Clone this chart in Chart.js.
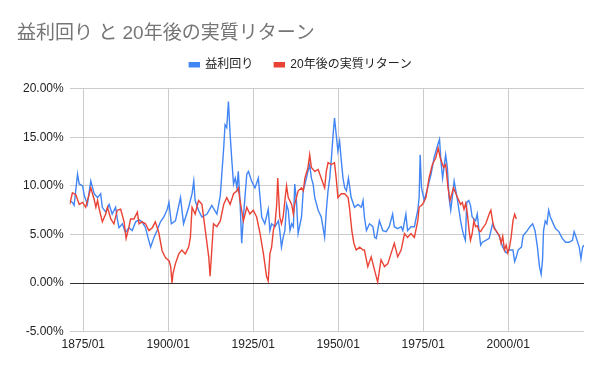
<!DOCTYPE html>
<html>
<head>
<meta charset="utf-8">
<script src="https://cdn.jsdelivr.net/npm/chart.js@4"></script>
<style>
  html, body { margin: 0; padding: 0; background: #fff; }
</style>
</head>
<body>
<canvas id="yieldChart" width="600" height="371"></canvas>
<script>
// 益利回り (月次をおおよそ読み取り)
const yieldYears = [
  1871.0, 1871.8, 1872.3, 1873.3, 1873.8, 1874.8, 1875.3, 1876.2, 1877.2, 1878.2,
  1879.2, 1880.1, 1880.6, 1881.6, 1882.6, 1883.5, 1884.5, 1885.0, 1885.5, 1886.5,
  1887.4, 1888.4, 1889.4, 1890.4, 1891.4, 1892.3, 1893.3, 1894.1, 1894.8, 1895.8,
  1896.7, 1897.7, 1898.7, 1899.7, 1900.2, 1900.9, 1902.1, 1903.6, 1904.5, 1906.0,
  1907.0, 1907.5, 1907.9, 1908.9, 1909.9, 1911.4, 1912.8, 1914.3, 1915.3, 1916.3,
  1916.7, 1917.2, 1917.7, 1918.2, 1918.7, 1919.2, 1919.7, 1920.2, 1920.6, 1921.1,
  1921.6, 1922.1, 1923.1, 1923.6, 1924.5, 1925.5, 1926.5, 1927.5, 1928.4, 1929.4,
  1929.9, 1930.4, 1931.4, 1932.4, 1932.8, 1933.3, 1933.8, 1934.3, 1934.8, 1935.3,
  1935.8, 1936.3, 1936.8, 1937.2, 1937.7, 1938.2, 1939.2, 1939.7, 1940.2, 1941.1,
  1941.6, 1942.1, 1942.6, 1943.1, 1944.1, 1945.0, 1946.0, 1946.5, 1947.0, 1947.5,
  1948.0, 1948.5, 1948.9, 1949.4, 1949.9, 1950.4, 1950.9, 1951.4, 1951.9, 1952.4,
  1953.0, 1953.8, 1954.8, 1955.8, 1956.8, 1957.3, 1957.7, 1958.3, 1959.2, 1960.2,
  1960.7, 1961.2, 1962.1, 1963.1, 1964.1, 1965.0, 1966.0, 1966.5, 1967.5, 1968.5,
  1969.0, 1969.9, 1970.4, 1971.4, 1972.4, 1973.4, 1973.8, 1974.1, 1974.5, 1975.3,
  1976.3, 1977.3, 1978.2, 1979.0, 1979.8, 1980.2, 1980.7, 1981.6, 1982.1, 1982.6,
  1983.1, 1984.1, 1985.1, 1986.0, 1986.5, 1987.0, 1987.4, 1987.8, 1988.4, 1988.9,
  1989.4, 1990.4, 1990.9, 1991.4, 1991.9, 1992.4, 1993.4, 1994.4, 1995.4, 1996.4,
  1997.4, 1998.4, 1999.4, 2000.4, 2001.4, 2001.9, 2002.4, 2002.9, 2003.9, 2004.4,
  2005.4, 2006.4, 2007.2, 2007.9, 2008.6, 2009.2, 2009.7, 2010.1, 2010.4, 2010.9,
  2011.4, 2011.9, 2012.4, 2012.9, 2013.9, 2014.9, 2015.9, 2016.9, 2017.9, 2018.9,
  2019.4, 2019.9, 2020.9, 2021.4, 2021.9, 2022.3
];
const yieldValues = [
  8.5, 8.3, 8.0, 11.2, 10.2, 10.0, 9.0, 8.1, 10.5, 9.2,
  8.8, 9.2, 7.8, 7.3, 8.1, 7.1, 7.8, 6.6, 5.7, 6.1,
  5.2, 5.7, 5.4, 6.3, 6.5, 6.3, 5.7, 4.6, 3.7, 4.7,
  5.4, 6.3, 6.8, 7.6, 8.3, 6.1, 6.4, 8.8, 6.1, 7.8,
  9.2, 10.5, 8.5, 7.5, 6.8, 7.1, 8.0, 7.1, 9.0, 13.9,
  16.3, 16.0, 18.7, 15.3, 12.6, 10.2, 10.8, 9.8, 11.5, 8.5,
  4.1, 6.8, 11.2, 11.5, 10.5, 9.8, 10.8, 6.8, 6.1, 7.6,
  5.4, 6.1, 5.8, 6.4, 5.4, 3.7, 4.7, 5.4, 8.1, 7.5,
  5.4, 6.1, 5.8, 10.2, 8.5, 5.1, 6.8, 9.5, 10.2, 11.5,
  12.2, 10.8, 10.2, 8.8, 7.5, 6.8, 4.7, 7.5, 9.5, 10.8,
  12.9, 15.3, 17.0, 15.3, 13.6, 14.6, 12.6, 10.8, 9.8, 9.5,
  10.8, 8.8, 7.8, 8.1, 7.8, 8.5, 6.8, 5.4, 6.1, 5.8,
  4.7, 4.6, 6.4, 5.4, 5.3, 5.8, 7.1, 5.8, 5.6, 5.8,
  5.4, 7.1, 5.4, 5.8, 5.8, 7.5, 8.8, 13.2, 9.8, 8.5,
  9.8, 11.2, 12.9, 13.9, 14.8, 12.6, 10.8, 13.2, 11.9, 8.8,
  7.5, 10.5, 8.5, 6.4, 5.5, 4.8, 4.4, 8.3, 8.5, 8.0,
  6.8, 6.4, 7.1, 5.4, 3.9, 4.2, 4.4, 4.6, 6.1, 5.4,
  4.8, 3.7, 3.1, 3.4, 3.4, 2.2, 2.7, 3.4, 3.7, 4.9,
  5.3, 5.8, 6.1, 5.4, 3.7, 1.7, 0.9, 2.4, 5.4, 6.4,
  6.1, 7.5, 6.8, 6.4, 5.6, 5.3, 4.6, 4.2, 4.2, 4.4,
  5.3, 4.8, 3.7, 2.5, 3.7, 3.9
];

// 20年後の実質リターン
const returnYears = [
  1871.0, 1871.8, 1872.8, 1873.8, 1874.8, 1875.7, 1876.7, 1877.2, 1878.2, 1878.7,
  1879.2, 1879.7, 1880.6, 1881.6, 1882.1, 1883.1, 1884.0, 1885.0, 1886.0, 1887.0,
  1887.6, 1888.4, 1888.9, 1889.9, 1890.9, 1891.4, 1892.3, 1893.3, 1894.3, 1895.3,
  1896.2, 1897.2, 1898.2, 1899.2, 1900.2, 1900.7, 1901.1, 1901.4, 1902.1, 1903.1,
  1904.0, 1905.0, 1906.0, 1906.5, 1907.0, 1907.9, 1908.9, 1909.9, 1910.9, 1911.9,
  1912.3, 1912.8, 1913.3, 1914.3, 1915.3, 1916.3, 1917.2, 1918.2, 1919.2, 1920.2,
  1920.6, 1921.1, 1922.1, 1923.1, 1924.0, 1925.0, 1926.0, 1927.0, 1928.0, 1928.9,
  1929.4, 1929.9, 1930.4, 1930.9, 1931.4, 1931.9, 1932.2, 1932.5, 1932.8, 1933.3,
  1933.8, 1934.3, 1934.8, 1935.3, 1936.3, 1936.8, 1937.2, 1938.2, 1939.2, 1939.7,
  1940.2, 1941.1, 1941.6, 1942.1, 1943.1, 1944.1, 1945.0, 1946.0, 1946.5, 1947.0,
  1948.0, 1948.9, 1949.4, 1949.9, 1950.9, 1951.9, 1952.9, 1953.3, 1954.0, 1954.6,
  1955.3, 1956.3, 1957.3, 1957.7, 1958.7, 1959.7, 1960.7, 1961.6, 1962.6, 1963.6,
  1964.6, 1965.5, 1966.5, 1967.5, 1968.5, 1969.5, 1970.4, 1971.4, 1972.4, 1973.4,
  1973.8, 1974.8, 1975.8, 1976.7, 1977.7, 1978.7, 1979.4, 1980.0, 1981.0, 1981.6,
  1982.3, 1982.9, 1983.9, 1985.1, 1986.0, 1986.5, 1987.0, 1987.5, 1988.0, 1988.5,
  1988.9, 1989.4, 1989.9, 1990.4, 1990.9, 1991.4, 1991.9, 1992.4, 1993.4, 1994.4,
  1994.9, 1995.4, 1995.9, 1996.4, 1997.4, 1997.9, 1998.4, 1998.9, 1999.4, 1999.9,
  2000.4, 2000.9, 2001.4, 2001.9, 2002.4
];
const returnValues = [
  8.1, 9.3, 9.1, 8.1, 8.3, 7.8, 9.1, 9.8, 8.6, 7.8,
  8.5, 7.6, 6.3, 7.1, 7.8, 6.6, 6.1, 7.5, 7.6, 6.3,
  4.6, 5.7, 6.6, 6.6, 7.3, 6.1, 6.3, 6.1, 5.4, 5.7,
  6.3, 5.2, 3.3, 2.6, 2.3, 1.7, 0.0, 1.0, 2.0, 3.0,
  3.4, 3.0, 3.7, 4.7, 7.8, 7.1, 8.5, 8.1, 5.4, 2.7,
  0.7, 3.4, 6.1, 5.8, 6.4, 8.1, 8.8, 8.1, 9.2, 9.5,
  9.8, 8.5, 6.4, 7.8, 7.1, 7.5, 6.8, 5.1, 3.0, 0.7,
  0.2, 3.0, 3.7, 5.4, 6.1, 8.1, 10.8, 8.8, 6.8, 6.1,
  6.8, 8.5, 10.0, 8.8, 8.1, 7.1, 8.1, 9.5, 9.8, 9.5,
  10.8, 11.9, 13.2, 11.9, 11.5, 11.7, 10.8, 9.8, 11.5, 12.4,
  12.2, 12.4, 10.8, 8.8, 9.2, 9.2, 8.8, 7.8, 5.4, 4.1,
  3.4, 3.7, 3.4, 3.4, 1.7, 2.7, 1.3, 0.1, 2.4, 1.7,
  2.0, 3.0, 4.1, 2.7, 3.4, 5.1, 4.7, 5.1, 4.7, 6.4,
  7.8, 8.1, 8.8, 10.8, 12.2, 12.9, 13.9, 12.9, 11.9, 12.2,
  9.8, 8.5, 9.8, 8.8, 8.1, 8.3, 7.6, 8.2, 7.1, 5.4,
  4.4, 5.1, 6.4, 5.8, 5.9, 5.4, 5.3, 5.6, 6.1, 7.1,
  7.5, 6.4, 5.6, 5.4, 4.9, 4.1, 4.8, 3.4, 3.9, 3.1,
  3.7, 4.8, 6.4, 7.1, 6.6
];

const tickYears = [1875, 1900, 1925, 1950, 1975, 2000];

const toPoints = (xs, ys) => xs.map((x, i) => ({ x: x, y: ys[i] }));
const fontFamily = "'Liberation Sans', Arial, 'Noto Sans CJK JP', sans-serif";

// 凡例とグラフの間に少し余白を足す
const legendGap = {
    id: 'legendGap',
    beforeInit(chart) {
        const fit = chart.legend.fit;
        chart.legend.fit = function () {
            fit.call(this);
            this.height += 8;
        };
    }
};

const ctx = document.getElementById('yieldChart').getContext('2d');
const yieldChart = new Chart(ctx, {
    type: 'line',
    data: {
        datasets: [{
            label: '益利回り',
            data: toPoints(yieldYears, yieldValues),
            borderColor: '#4285f4',
            backgroundColor: '#4285f4',
            borderWidth: 1.4,
            pointRadius: 0,
            order: 2
        }, {
            label: '20年後の実質リターン',
            data: toPoints(returnYears, returnValues),
            borderColor: '#ea4335',
            backgroundColor: '#ea4335',
            borderWidth: 1.4,
            pointRadius: 0,
            order: 1
        }]
    },
    plugins: [legendGap],
    options: {
        responsive: false,
        animation: false,
        layout: {
            padding: { left: 17, right: 16, bottom: 13 }
        },
        plugins: {
            title: {
                display: true,
                text: '益利回り と 20年後の実質リターン',
                align: 'start',
                color: '#757575',
                font: { family: fontFamily, size: 19, weight: 'normal' },
                padding: { top: 22, bottom: -7 }
            },
            legend: {
                position: 'top',
                labels: {
                    boxWidth: 10,
                    boxHeight: 4,
                    color: '#222',
                    font: { family: fontFamily, size: 12 },
                    padding: 21,
                    sort: (a, b) => a.datasetIndex - b.datasetIndex
                }
            },
            tooltip: { enabled: false }
        },
        scales: {
            x: {
                type: 'linear',
                min: 1871.0,
                max: 2022.3,
                afterBuildTicks: (axis) => {
                    axis.ticks = tickYears.map(v => ({ value: v }));
                },
                ticks: {
                    autoSkip: false,
                    maxRotation: 0,
                    color: '#222',
                    font: { family: fontFamily, size: 12 },
                    padding: 6,
                    callback: (v) => v + '/01'
                },
                grid: { color: '#cccccc', drawTicks: false },
                border: { display: false }
            },
            y: {
                min: -5,
                max: 20,
                ticks: {
                    stepSize: 5,
                    color: '#222',
                    font: { family: fontFamily, size: 12 },
                    padding: 6,
                    callback: (v) => v.toFixed(2) + '%'
                },
                grid: {
                    drawTicks: false,
                    color: (c) => c.tick && c.tick.value === 0 ? '#333333' : '#cccccc'
                },
                border: { display: false }
            }
        }
    }
});
</script>
</body>
</html>
